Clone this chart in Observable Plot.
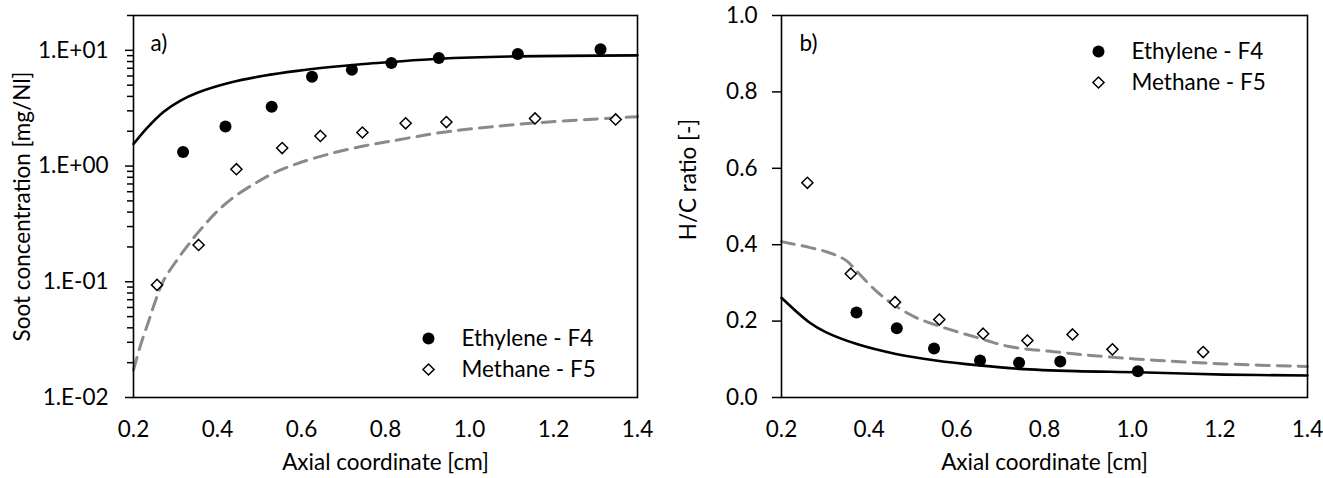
<!DOCTYPE html>
<html><head><meta charset="utf-8">
<script src="https://cdn.jsdelivr.net/npm/d3@7"></script>
<script src="https://cdn.jsdelivr.net/npm/@observablehq/plot@0.6"></script>
<style>
body{margin:0;background:#fff;}
#wrap{display:flex;width:1323px;height:478px;background:#fff;}
</style></head><body><div id="wrap"></div>
<script>
// ---- Panel a) soot concentration ----
const ethA_x = [0.318, 0.419, 0.529, 0.625, 0.720, 0.814, 0.927, 1.115, 1.312];
const ethA_y = [1.32, 2.20, 3.26, 5.9, 6.8, 7.76, 8.59, 9.3, 10.2];
const metA_x = [0.256, 0.355, 0.445, 0.554, 0.645, 0.745, 0.848, 0.945, 1.156, 1.348];
const metA_y = [0.094, 0.208, 0.94, 1.43, 1.82, 1.95, 2.34, 2.40, 2.58, 2.53];
const ethModelA_x = [0.2, 0.233, 0.272, 0.312, 0.352, 0.431, 0.51, 0.59, 0.669, 0.748, 0.812, 0.927, 1.115, 1.4];
const ethModelA_y = [1.55, 2.15, 2.95, 3.68, 4.3, 5.27, 6.03, 6.65, 7.17, 7.63, 7.93, 8.45, 8.87, 9.05];
const metModelA_x = [0.2, 0.217, 0.236, 0.252, 0.272, 0.304, 0.336, 0.364, 0.399, 0.439, 0.487, 0.534, 0.59, 0.669, 0.748, 0.812, 0.947, 1.145, 1.4];
const metModelA_y = [0.0173, 0.0285, 0.0455, 0.068, 0.103, 0.155, 0.222, 0.295, 0.405, 0.54, 0.70, 0.87, 1.05, 1.28, 1.49, 1.64, 1.98, 2.34, 2.67];

// ---- Panel b) H/C ratio ----
const ethB_x = [0.371, 0.463, 0.548, 0.653, 0.742, 0.836, 1.013];
const ethB_y = [0.2225, 0.181, 0.128, 0.097, 0.091, 0.094, 0.069];
const metB_x = [0.259, 0.358, 0.459, 0.560, 0.66, 0.761, 0.864, 0.955, 1.162];
const metB_y = [0.562, 0.324, 0.2495, 0.204, 0.167, 0.149, 0.165, 0.126, 0.119];
const ethModelB_x = [0.2, 0.263, 0.301, 0.370, 0.461, 0.552, 0.651, 0.742, 0.871, 1.013, 1.21, 1.4];
const ethModelB_y = [0.261, 0.197, 0.171, 0.1405, 0.114, 0.097, 0.084, 0.075, 0.069, 0.066, 0.060, 0.0576];
const metModelB_x = [0.2, 0.263, 0.309, 0.347, 0.377, 0.415, 0.453, 0.506, 0.567, 0.643, 0.719, 0.833, 0.906, 1.058, 1.21, 1.4];
const metModelB_y = [0.408, 0.393, 0.379, 0.359, 0.324, 0.280, 0.245, 0.210, 0.184, 0.158, 0.1335, 0.1186, 0.110, 0.097, 0.088, 0.081];

// ---- ticks & labels ----
const xTicks = [0.2, 0.4, 0.6, 0.8, 1.0, 1.2, 1.4];
const yTicksA = [0.01, 0.1, 1, 10];
const yMinorA = [0.02,0.03,0.04,0.05,0.06,0.07,0.08,0.09,0.2,0.3,0.4,0.5,0.6,0.7,0.8,0.9,2,3,4,5,6,7,8,9,20];
const yTicksB = [0, 0.2, 0.4, 0.6, 0.8, 1.0];
const seriesNames = ["Ethylene - F4", "Methane - F5"];
const panelLabels = ["a)", "b)"];
const xTitle = "Axial coordinate [cm]";
const yTitleA = "Soot concentration [mg/Nl]";
const yTitleB = "H/C ratio [-]";

const zip = (xs, ys) => xs.map((x, i) => ({x, y: ys[i]}));
const expFmt = d => { const e = Math.round(Math.log10(d)); return "1.E" + (e < 0 ? "-" : "+") + String(Math.abs(e)).padStart(2, "0"); };
const FONT = "Lato, 'Open Sans', sans-serif";
const GRAY = "#8a8a8a";
const style = {fontFamily: FONT, fontSize: "22.5px", color: "#000", background: "#fff", overflow: "visible"};

function legend(dx, dy) {
  return [
    Plot.dot([seriesNames[0]], {frameAnchor: "top-left", dx: dx, dy: dy, r: 6, fill: "#000"}),
    Plot.dot([seriesNames[1]], {frameAnchor: "top-left", dx: dx, dy: dy + 31, r: 5, symbol: "diamond2", stroke: "#000", fill: "#fff", strokeWidth: 1.5}),
    Plot.text([seriesNames[0]], {frameAnchor: "top-left", dx: dx + 33, dy: dy, textAnchor: "start", lineAnchor: "middle", fill: "#000"}),
    Plot.text([seriesNames[1]], {frameAnchor: "top-left", dx: dx + 33, dy: dy + 31, textAnchor: "start", lineAnchor: "middle", fill: "#000"})
  ];
}

const plotA = Plot.plot({
  width: 660, height: 478, marginLeft: 133, marginRight: 23, marginTop: 15, marginBottom: 81,
  style,
  x: {domain: [0.2, 1.4]},
  y: {type: "log", domain: [0.01, 20]},
  marks: [
    Plot.axisX({ticks: xTicks, tickFormat: d => d.toFixed(1), tickSize: 0, tickPadding: 24, label: null}),
    Plot.axisY({ticks: yTicksA, tickFormat: expFmt, tickSize: 8, tickPadding: 17, label: null, strokeWidth: 1.5}),
    Plot.axisY({ticks: yMinorA, tickFormat: () => "", tickSize: 6, label: null, strokeWidth: 1.5}),
    Plot.line(zip(metModelA_x, metModelA_y), {x: "x", y: "y", stroke: GRAY, strokeWidth: 3, strokeDasharray: "13,8", curve: "catmull-rom"}),
    Plot.line(zip(ethModelA_x, ethModelA_y), {x: "x", y: "y", stroke: "#000", strokeWidth: 2.6, curve: "catmull-rom"}),
    Plot.dot(zip(ethA_x, ethA_y), {x: "x", y: "y", r: 6, fill: "#000"}),
    Plot.dot(zip(metA_x, metA_y), {x: "x", y: "y", r: 5, symbol: "diamond2", stroke: "#000", fill: "#fff", strokeWidth: 1.5}),
    Plot.frame({stroke: "#000", strokeWidth: 1.6}),
    ...legend(295, 323),
    Plot.text([panelLabels[0]], {frameAnchor: "top-left", dx: 17, dy: 28, textAnchor: "start", lineAnchor: "middle"}),
    Plot.text([xTitle], {frameAnchor: "bottom", dy: 65, textAnchor: "middle", lineAnchor: "middle"}),
    Plot.text([yTitleA], {frameAnchor: "left", dx: -111, rotate: -90, textAnchor: "middle", lineAnchor: "middle"})
  ]
});

const plotB = Plot.plot({
  width: 663, height: 478, marginLeft: 121, marginRight: 16, marginTop: 15, marginBottom: 81,
  style,
  x: {domain: [0.2, 1.4]},
  y: {domain: [0, 1]},
  marks: [
    Plot.axisX({ticks: xTicks, tickFormat: d => d.toFixed(1), tickSize: 0, tickPadding: 24, label: null}),
    Plot.axisY({ticks: yTicksB, tickFormat: d => d.toFixed(1), tickSize: 9, tickPadding: 15, label: null, strokeWidth: 1.5}),
    Plot.line(zip(metModelB_x, metModelB_y), {x: "x", y: "y", stroke: GRAY, strokeWidth: 3, strokeDasharray: "13,8", curve: "catmull-rom"}),
    Plot.line(zip(ethModelB_x, ethModelB_y), {x: "x", y: "y", stroke: "#000", strokeWidth: 2.6, curve: "catmull-rom"}),
    Plot.dot(zip(ethB_x, ethB_y), {x: "x", y: "y", r: 6, fill: "#000"}),
    Plot.dot(zip(metB_x, metB_y), {x: "x", y: "y", r: 5, symbol: "diamond2", stroke: "#000", fill: "#fff", strokeWidth: 1.5}),
    Plot.frame({stroke: "#000", strokeWidth: 1.6}),
    ...legend(317, 36),
    Plot.text([panelLabels[1]], {frameAnchor: "top-left", dx: 18, dy: 28, textAnchor: "start", lineAnchor: "middle"}),
    Plot.text([xTitle], {frameAnchor: "bottom", dy: 65, textAnchor: "middle", lineAnchor: "middle"}),
    Plot.text([yTitleB], {frameAnchor: "left", dx: -93, dy: -27, rotate: -90, textAnchor: "middle", lineAnchor: "middle"})
  ]
});

const wrap = document.getElementById("wrap");
wrap.appendChild(plotA);
wrap.appendChild(plotB);
</script>
</body></html>
